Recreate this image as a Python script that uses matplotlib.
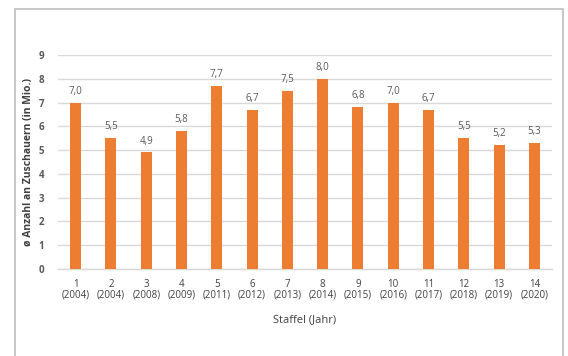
import matplotlib
matplotlib.use("Agg")
import matplotlib.pyplot as plt
from matplotlib.patches import Rectangle

seasons = ["1", "2", "3", "4", "5", "6", "7", "8", "9", "10", "11", "12", "13", "14"]
years = ["2004", "2004", "2008", "2009", "2011", "2012", "2013", "2014",
         "2015", "2016", "2017", "2018", "2019", "2020"]
viewers = [7.0, 5.5, 4.9, 5.8, 7.7, 6.7, 7.5, 8.0, 6.8, 7.0, 6.7, 5.5, 5.2, 5.3]
y_ticks = [0, 1, 2, 3, 4, 5, 6, 7, 8, 9]

bar_color = "#ED7D31"
text_color = "#595959"
grid_color = "#D9D9D9"

plt.rcParams["font.family"] = ["Open Sans", "DejaVu Sans"]

W, H = 568, 356
fig = plt.figure(figsize=(W / 100, H / 100), dpi=100)
fig.patch.set_facecolor("white")

# outer frame around the chart area
fig.patches.append(Rectangle((15 / W, -0.05), (563 - 15) / W, 1.05 - 9 / H,
                             transform=fig.transFigure, fill=False,
                             edgecolor="#BFBFBF", linewidth=1.2))

ax = fig.add_axes([58 / W, 1 - 269 / H, (552 - 58) / W, (269 - 55) / H])
x = list(range(len(viewers)))
ax.bar(x, viewers, width=0.31, color=bar_color, zorder=3)

for xi, v in zip(x, viewers):
    ax.text(xi, v + 0.25, f"{v:.1f}".replace(".", ","), ha="center", va="bottom",
            fontsize=7, color=text_color)

ax.set_xlim(-0.5, len(viewers) - 0.5)
ax.set_ylim(0, 9)
ax.set_yticks(y_ticks)
ax.set_yticklabels([str(t) for t in y_ticks], fontsize=7, color=text_color,
                   fontweight="bold")
ax.set_xticks(x)
ax.set_xticklabels([f"{s}\n({y})" for s, y in zip(seasons, years)],
                   fontsize=7, color="#404040", linespacing=1.0)
ax.tick_params(axis="both", length=0)
ax.tick_params(axis="x", pad=7)
ax.tick_params(axis="y", pad=10)

ax.grid(axis="y", color=grid_color, linewidth=1.0, zorder=0)
for side in ["top", "right", "left"]:
    ax.spines[side].set_visible(False)
ax.spines["bottom"].set_color(grid_color)
ax.spines["bottom"].set_linewidth(1.0)

ax.set_xlabel("Staffel (Jahr)", fontsize=8, color="#404040", labelpad=10)
ax.set_ylabel("ø Anzahl an Zuschauern (in Mio.)", fontsize=7.5, color="#404040",
              fontweight="bold", labelpad=3)

fig.savefig("out.png", dpi=100)
